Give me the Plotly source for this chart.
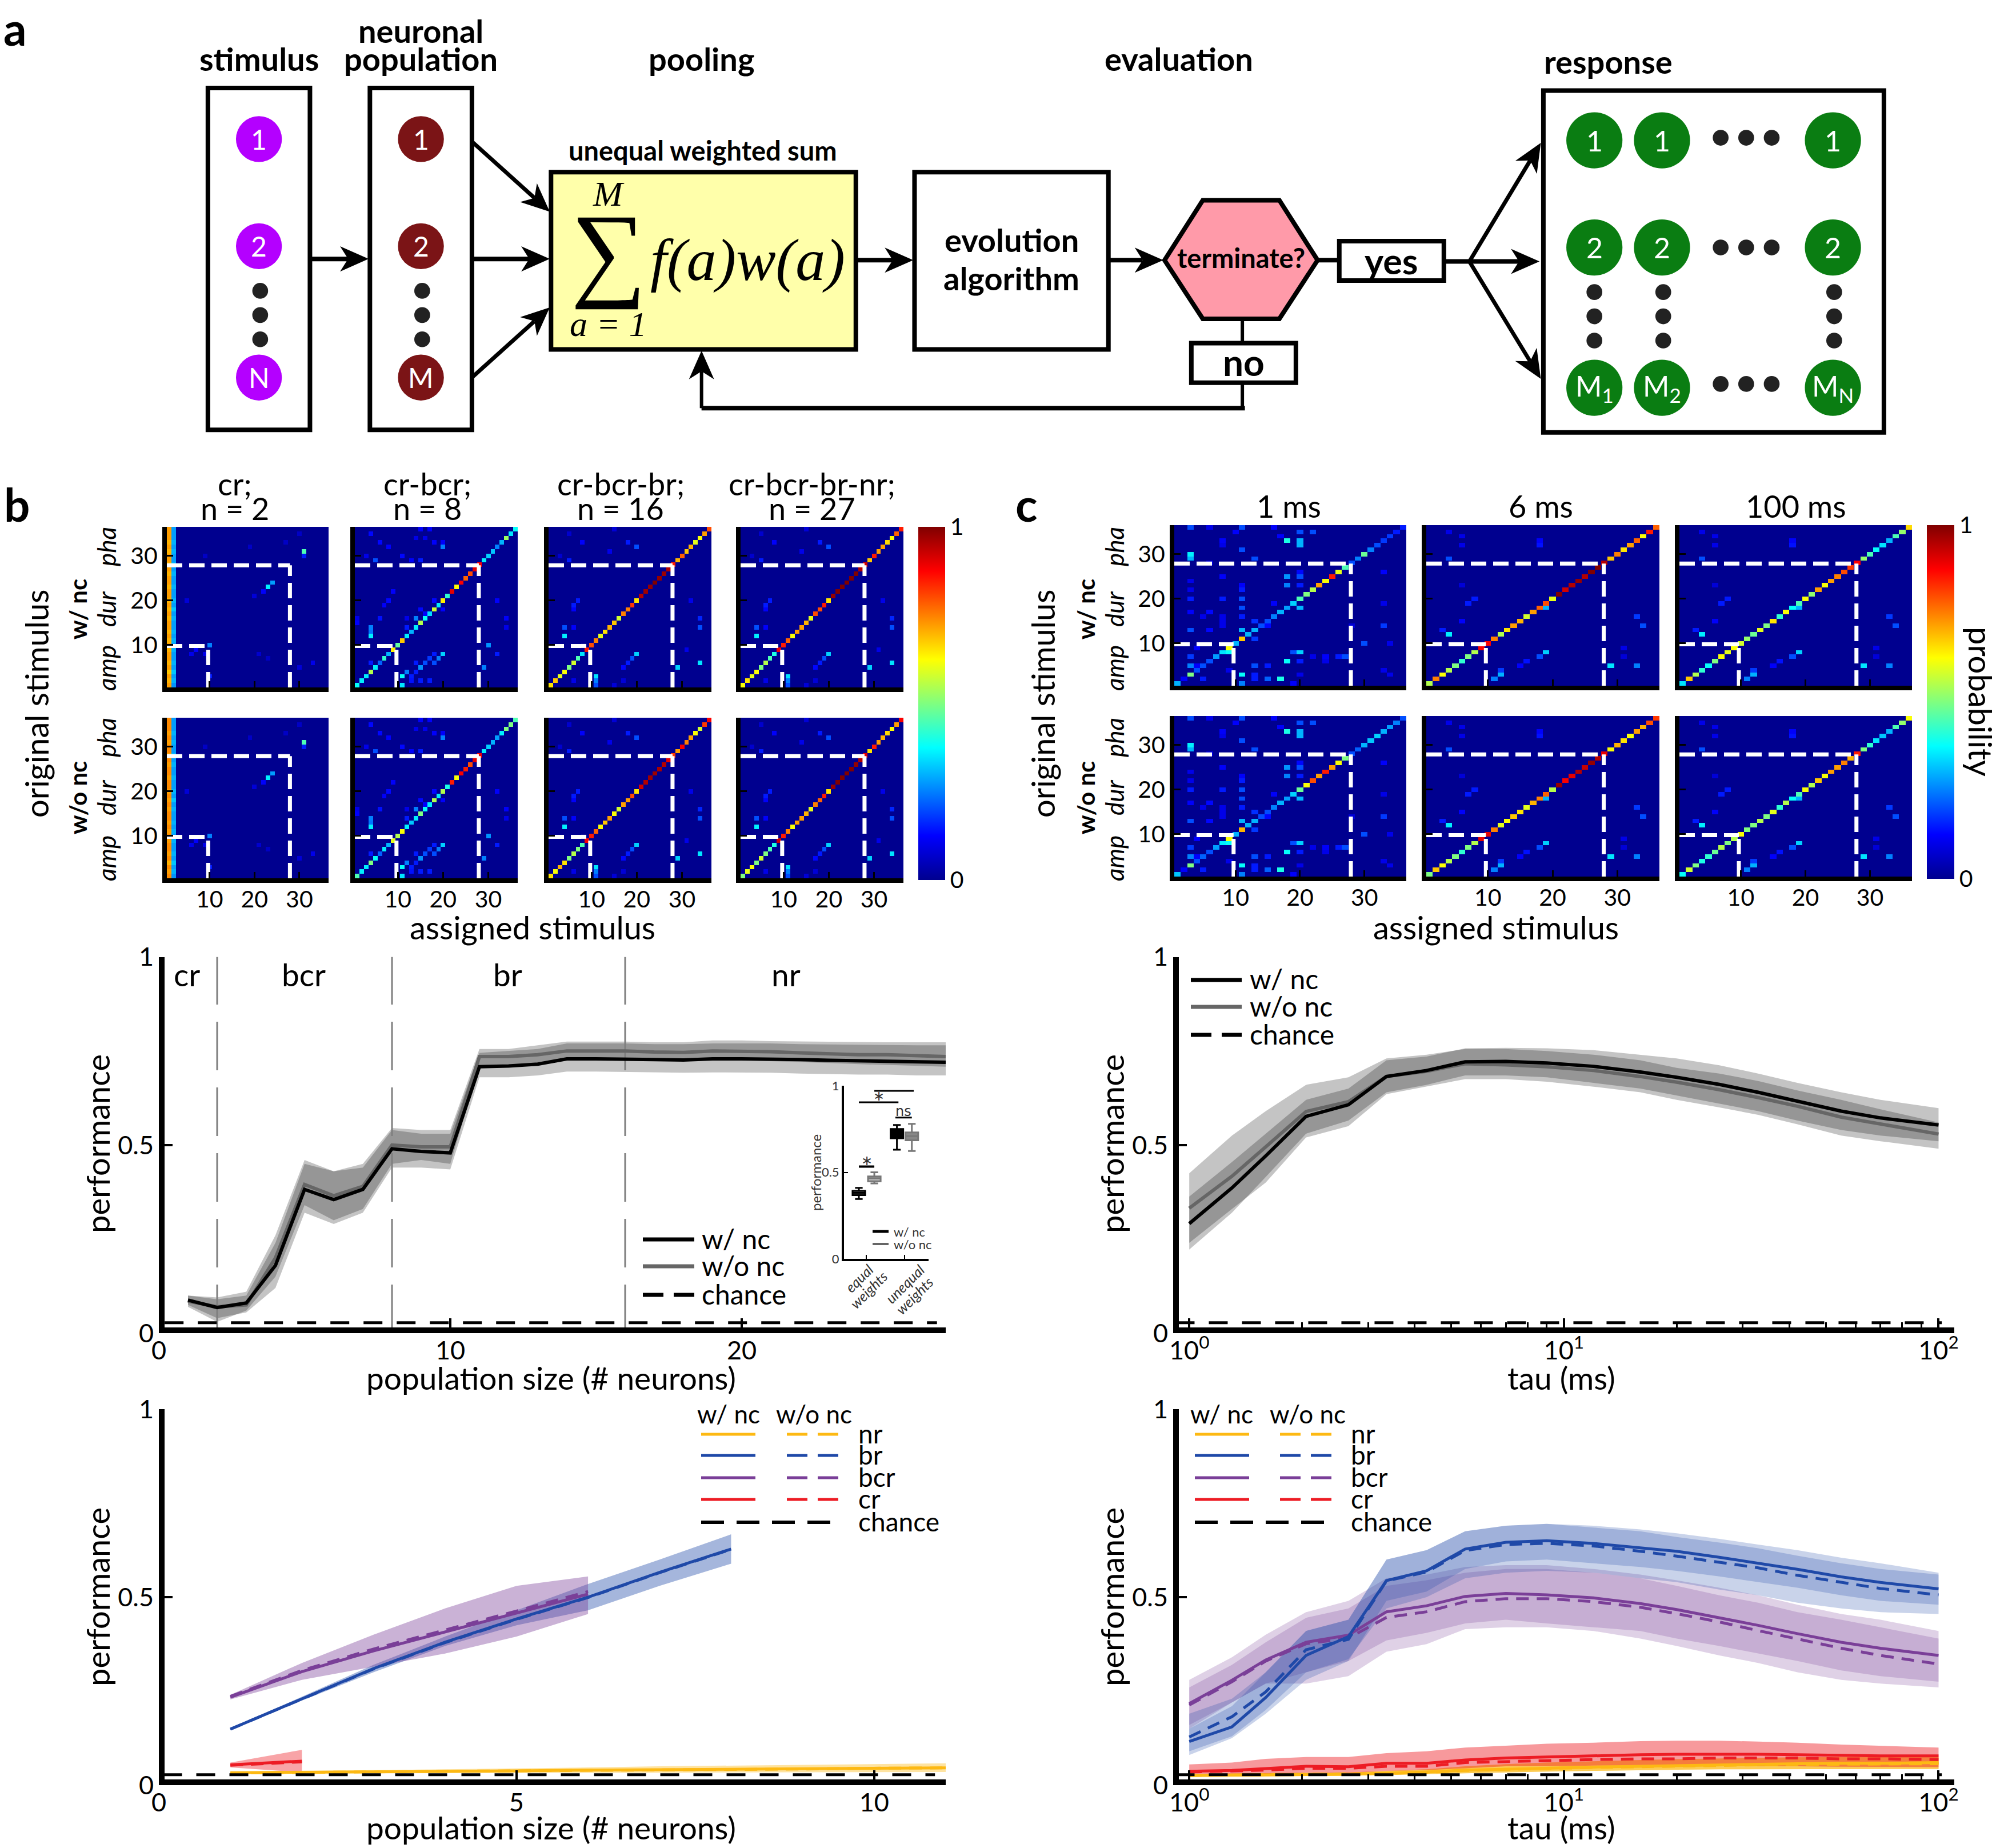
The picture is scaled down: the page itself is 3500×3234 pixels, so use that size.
import math
import plotly.graph_objects as go

W, H = 3500, 3234
D = W / 1568
FONT = "Lato"
SERIF = "Liberation Serif"

# ---------- confusion matrices ----------
cr_col1 = [.72,.70,.72,.68,.72,.70,.72,.72,.70,.72,.70,.72,.70,.72,.72,.70,.72,.70,.72,.70,.72,.72,.70,.72,.72,.70,.72,.70,.72,.72,.70,.72,.70,.72,.72,.72]
cr_col2 = [.27,.30,.28,.32,.28,.30,.28,.28,.30,.28,.30,.28,.30,.28,.28,.30,.28,.32,.28,.30,.28,.28,.30,.28,.28,.30,.28,.30,.28,.28,.30,.28,.30,.28,.28,.28]
off_b1 = [(31,31,.45),(30,31,.15),(23,23,.36),(24,24,.28),(22,22,.12),(21,20,.08),(10,10,.25),(9,7,.12),(8,6,.1),(8,9,.1),(8,21,.07),(7,23,.06),(6,33,.1),(5,30,.08),(3,10,.15),(20,5,.08),(32,19,.06),(33,27,.06),(35,30,.06),(30,9,.06)]
off_b2 = [(8,20,.33),(7,19,.25),(8,18,.15),(7,17,.18),(6,18,.2),(6,16,.2),(5,15,.27),(6,14,.15),(4,14,.15),(4,12,.25),(3,11,.38),(1,11,.35),(2,15,.15),(2,17,.15),(3,13,.15),(2,13,.14),(12,4,.36),(14,4,.25),(13,4,.24),(15,1,.12),(16,6,.14),(19,7,.12),(20,8,.13),(10,30,.27),(5,29,.25),(8,32,.15),(20,32,.12),(16,34,.12),(14,34,.1),(6,6,.22),(6,4,.15),(32,20,.25),(33,20,.12),(33,18,.12),(34,16,.1),(34,14,.1),(32,8,.12),(33,6,.13),(35,4,.13),(30,11,.13),(29,13,.12),(29,5,.2),(29,15,.15),(36,15,.12),(36,17,.12),(30,3,.1),(22,9,.12),(16,14,.25),(17,16,.12),(18,15,.13),(16,12,.1),(14,12,.15),(20,18,.13),(18,20,.12),(16,1,.1)]
off_b3 = [(12,4,.36),(14,4,.2),(3,11,.35),(2,11,.25),(1,11,.2),(8,20,.33),(7,19,.2),(6,18,.15),(5,17,.13),(5,29,.33),(6,34,.35),(16,34,.16),(14,34,.2),(20,7,.15),(19,6,.15),(18,6,.12),(14,6,.12),(32,20,.2),(33,18,.15),(33,8,.12),(31,14,.1),(29,5,.15),(9,31,.1),(20,32,.1),(2,17,.08),(2,6,.1),(1,15,.08),(30,3,.07),(35,5,.07),(36,15,.08)]
off_c2 = [(12,4,.36),(13,3,.15),(4,12,.18),(3,12,.3),(2,11,.25),(5,29,.35),(8,19,.33),(7,18,.2),(6,16,.14),(5,15,.12),(18,19,.3),(16,33,.18),(5,33,.25),(14,34,.2),(20,8,.15),(19,7,.15),(15,6,.12),(29,4,.2),(32,18,.14),(33,18,.12),(32,6,.1),(35,4,.1),(34,6,.1),(23,6,.08),(9,31,.1),(7,31,.08)]
off_c1 = [(30,3,.36),(29,3,.3),(3,3,.5),(5,3,.25),(36,3,.2),(33,18,.4),(33,20,.3),(32,20,.3),(6,18,.38),(8,20,.33),(2,17,.4),(8,9,.38),(3,11,.38),(1,11,.25),(13,11,.3),(36,11,.2),(31,11,.2),(29,13,.2),(35,20,.2),(35,22,.2),(25,18,.27),(25,20,.2),(23,18,.25),(23,20,.15),(18,20,.3),(25,8,.12),(20,8,.15),(20,3,.15),(17,3,.12),(17,6,.13),(13,3,.2),(7,3,.18),(6,6,.2),(5,13,.2),(5,15,.15),(7,27,.2),(7,26,.15),(7,24,.12),(10,30,.2),(26,33,.12),(14,33,.18),(10,34,.1),(4,33,.1),(32,8,.1),(14,8,.1),(20,11,.2),(22,11,.15),(18,11,.2),(16,11,.15),(11,13,.18),(3,13,.15),(2,5,.15),(2,13,.15),(2,15,.22),(33,8,.12),(34,17,.12),(36,6,.1),(36,16,.12),(35,10,.12),(22,3,.1),(15,13,.17),(16,5,.1),(14,15,.13),(15,8,.1),(19,16,.12),(26,20,.13),(8,19,.2),(7,22,.1),(6,20,.15),(6,24,.1),(3,20,.1),(13,6,.13),(9,4,.12),(5,4,.12),(4,9,.1),(1,19,.12),(16,8,.1),(14,28,.08),(19,33,.1),(3,34,.1),(28,6,.08),(23,11,.12),(24,3,.1)]
diag_b2w = [.38,.36,.36,.55,.36,.28,.42,.30,.64,.47,.68,.36,.30,.36,.55,.38,.34,.58,.36,.64,.42,.90,.63,.88,.78,.80,.90,.88,.36,.33,.32,.25,.30,.53,.35,.38]
diag_b2o = [.45,.36,.36,.50,.38,.30,.36,.30,.60,.55,.62,.36,.32,.36,.50,.38,.36,.55,.36,.55,.40,.85,.62,.88,.85,.80,.90,.88,.36,.33,.30,.28,.36,.50,.50,.45]
diag_b3w = [.65,.68,.60,.62,.50,.58,.45,.35,.85,.80,.75,.60,.65,.70,.68,.58,.75,.75,.82,.65,.95,.97,.98,1,.98,.97,.95,.85,.70,.78,.68,.70,.60,.62,.72,.80]
diag_b3o = [.65,.62,.70,.65,.50,.55,.50,.45,.88,.85,.78,.62,.68,.72,.62,.58,.72,.72,.80,.65,.92,.95,.97,.97,.96,.95,.90,.82,.72,.88,.75,.72,.62,.58,.82,.88]
diag_b4w = [.62,.65,.60,.62,.50,.55,.45,.40,.88,.85,.78,.62,.72,.72,.70,.60,.80,.80,.85,.65,.98,1,1,1,1,1,.95,.92,.68,.85,.72,.72,.66,.62,.78,.85]
diag_b4o = [.50,.60,.62,.50,.58,.50,.45,.40,.92,.85,.75,.62,.72,.72,.70,.60,.75,.78,.85,.65,.98,1,1,1,1,.98,.95,.90,.65,.85,.72,.70,.66,.62,.72,.88]
diag_c1w = [.30,.12,.12,.20,.20,.22,.28,.35,.62,.30,.68,.30,.30,.20,.20,.25,.30,.28,.33,.45,.50,.55,.72,.62,.85,.60,.45,.20,.25,.48,.25,.20,.18,.18,.15,.15]
diag_c1o = [.32,.12,.12,.20,.22,.22,.28,.36,.62,.30,.70,.30,.30,.20,.20,.25,.30,.28,.33,.48,.62,.80,.72,.85,.72,.62,.50,.20,.22,.30,.32,.33,.30,.28,.25,.20]
diag_c2w = [.55,.75,.62,.55,.50,.42,.50,.55,.88,.88,.75,.55,.65,.72,.70,.58,.72,.78,.80,.60,1,.92,.95,.98,.95,1,1,.95,.68,.75,.65,.72,.78,.62,.85,.78]
diag_c2o = [.50,.68,.62,.55,.50,.42,.50,.55,.90,.90,.75,.60,.62,.68,.65,.60,.70,.75,.78,.55,.98,.88,.90,.95,.93,.98,.95,.90,.62,.70,.65,.62,.72,.70,.80,.82]
diag_c3w = [.35,.68,.55,.42,.38,.50,.62,.60,.62,.58,.52,.48,.60,.50,.65,.42,.62,.38,.45,.62,.52,.72,.62,.72,.75,.80,.82,.88,.52,.45,.38,.35,.30,.45,.52,.66]
diag_c3o = [.38,.58,.50,.40,.42,.48,.55,.50,.55,.62,.50,.50,.55,.50,.60,.42,.55,.38,.45,.62,.55,.68,.62,.72,.72,.75,.70,.85,.50,.42,.35,.32,.30,.45,.52,.62]
NUMS = list(range(1, 37))

# ---------- line charts ----------
size_x = list(range(1, 28))
size_w = [.088,.068,.08,.18,.382,.355,.382,.49,.483,.479,.708,.71,.715,.729,.729,.729,.727,.726,.729,.729,.729,.727,.725,.724,.724,.722,.72]
size_o = [.085,.07,.075,.20,.395,.365,.39,.50,.495,.495,.735,.735,.74,.75,.75,.75,.747,.746,.75,.75,.748,.745,.742,.74,.74,.738,.735]
size_w_up = [.10,.09,.10,.24,.45,.43,.44,.54,.53,.53,.745,.75,.755,.77,.77,.77,.768,.768,.77,.77,.77,.768,.767,.766,.766,.765,.765]
size_w_lo = [.075,.04,.055,.12,.32,.29,.32,.44,.44,.435,.68,.68,.685,.695,.695,.695,.693,.692,.693,.693,.692,.69,.688,.687,.687,.685,.685]
size_o_up = [.10,.095,.11,.26,.46,.43,.45,.545,.54,.54,.755,.755,.765,.775,.775,.775,.773,.773,.778,.778,.776,.775,.775,.773,.773,.773,.773]
size_o_lo = [.07,.03,.06,.15,.34,.30,.33,.45,.46,.45,.71,.71,.715,.73,.73,.73,.728,.726,.725,.725,.722,.72,.718,.715,.712,.71,.708]
chance = [.0278,.0278]

single_x = {"br":[1,2,3,4,5,6,7,8],"bcr":[1,2,3,4,5,6],"cr":[1,2],"nr":[1,2,3,4,5,6,7,8,9,10,11]}
single_w = {"br":[.149,.229,.31,.38,.442,.50,.566,.628],"bcr":[.234,.302,.357,.407,.457,.508],"cr":[.054,.064],"nr":[.033,.034,.036,.037,.038,.040,.041,.042,.044,.045,.046]}
single_o = {"br":[.149,.228,.309,.379,.441,.499,.565,.627],"bcr":[.236,.305,.362,.412,.463,.515],"cr":[.053,.062],"nr":[.032,.034,.035,.037,.038,.039,.041,.042,.043,.045,.046]}
single_up = {"br":[.152,.235,.32,.395,.465,.535,.60,.667],"bcr":[.24,.325,.40,.47,.53,.555],"cr":[.06,.094],"nr":[.035,.038,.04,.042,.044,.047,.05,.052,.054,.056,.058]}
single_lo = {"br":[.146,.225,.30,.37,.425,.465,.53,.589],"bcr":[.228,.28,.315,.35,.395,.455],"cr":[.047,.034],"nr":[.03,.031,.031,.032,.032,.033,.033,.034,.034,.035,.035]}

tau = [1,1.3,1.6,2.05,2.66,3.36,4.3,5.45,7,9,12,16,20,26,33,42,55,70,100]
tau_w = [.291,.386,.471,.576,.607,.682,.698,.721,.722,.718,.709,.694,.68,.661,.64,.616,.59,.572,.553]
tau_o = [.332,.417,.495,.589,.615,.682,.696,.716,.713,.708,.698,.682,.667,.647,.626,.603,.574,.555,.529]
tau_w_up = [.363,.455,.53,.62,.65,.725,.735,.757,.758,.757,.752,.74,.73,.712,.69,.665,.64,.62,.598]
tau_w_lo = [.222,.32,.415,.53,.565,.64,.66,.685,.685,.68,.665,.65,.632,.61,.59,.565,.54,.525,.51]
tau_o_up = [.425,.525,.59,.66,.68,.73,.74,.755,.755,.75,.74,.725,.705,.69,.67,.645,.62,.595,.56]
tau_o_lo = [.24,.33,.40,.52,.55,.635,.655,.675,.675,.668,.655,.64,.62,.60,.58,.555,.525,.51,.49]

br_w = [.116,.155,.233,.345,.395,.544,.57,.628,.646,.65,.643,.632,.622,.606,.591,.574,.554,.539,.522]
br_o = [.128,.182,.248,.36,.388,.543,.567,.624,.64,.643,.636,.622,.609,.593,.578,.558,.539,.523,.506]
br_w_up = [.15,.21,.30,.41,.44,.60,.625,.675,.69,.695,.69,.68,.67,.655,.64,.625,.605,.59,.565]
br_w_lo = [.08,.125,.19,.28,.33,.49,.515,.575,.595,.60,.59,.58,.57,.555,.54,.525,.505,.49,.48]
br_o_up = [.19,.23,.30,.41,.44,.60,.625,.675,.69,.695,.685,.675,.66,.645,.63,.61,.59,.575,.56]
br_o_lo = [.09,.13,.20,.30,.335,.47,.50,.55,.565,.57,.565,.55,.54,.52,.505,.485,.47,.46,.455]
bcr_w = [.217,.279,.333,.38,.399,.461,.477,.502,.51,.506,.498,.483,.467,.446,.425,.403,.38,.364,.345]
bcr_o = [.213,.275,.33,.376,.391,.446,.461,.488,.496,.496,.488,.473,.456,.434,.411,.388,.364,.345,.322]
bcr_w_up = [.28,.34,.40,.46,.49,.55,.56,.58,.585,.585,.575,.56,.545,.525,.505,.48,.455,.44,.41]
bcr_w_lo = [.15,.22,.27,.30,.33,.385,.405,.43,.44,.43,.42,.41,.39,.37,.35,.33,.305,.29,.275]
bcr_o_up = [.26,.32,.38,.445,.47,.53,.545,.565,.575,.575,.565,.55,.53,.505,.485,.46,.44,.42,.39]
bcr_o_lo = [.16,.22,.27,.27,.29,.355,.375,.415,.42,.42,.41,.39,.37,.345,.325,.30,.28,.27,.26]
cr_w = [.037,.039,.044,.05,.049,.058,.058,.067,.072,.075,.078,.081,.082,.083,.082,.081,.079,.078,.078]
cr_o = [.035,.037,.04,.045,.045,.05,.05,.06,.063,.065,.068,.07,.07,.072,.072,.072,.07,.07,.068]
cr_up = [.055,.06,.07,.075,.075,.085,.09,.10,.105,.11,.113,.117,.118,.118,.116,.113,.108,.105,.10]
cr_lo = [.024,.026,.028,.033,.032,.038,.04,.045,.05,.05,.052,.053,.052,.052,.05,.05,.049,.048,.048]
nr_w = [.026,.027,.027,.028,.029,.032,.035,.04,.043,.046,.048,.05,.052,.054,.056,.057,.058,.058,.06]
nr_o = [.026,.027,.027,.028,.029,.031,.034,.039,.042,.045,.047,.049,.051,.053,.054,.055,.056,.056,.057]
nr_up = [.03,.031,.032,.033,.034,.038,.042,.05,.056,.06,.064,.067,.069,.071,.073,.074,.075,.075,.075]
nr_lo = [.022,.023,.023,.024,.025,.027,.029,.032,.034,.036,.038,.04,.041,.042,.043,.043,.043,.043,.043]

box_pos = [.806,1.21,1.8,2.19]
box_low = [.346,.436,.63,.623]
box_q1 = [.368,.448,.696,.685]
box_med = [.381,.465,.72,.709]
box_q3 = [.393,.476,.75,.73]
box_up = [.41,.50,.773,.78]

COL = {"nr":"#FDB913","br":"#1F49A8","bcr":"#7A3F98","cr":"#ED1C24"}
RGB = {"nr":"253,185,19","br":"31,73,168","bcr":"122,63,152","cr":"237,28,36"}
JET = [[0,"#00008F"],[.125,"#0000FF"],[.375,"#00FFFF"],[.625,"#FFFF00"],[.875,"#FF0000"],[1,"#800000"]]

fig = go.Figure()
shapes, annots = [], []
axis_count = [0]
layout_axes = {}

def px(x): return x / W
def py(y): return 1 - y / H

def txt(x, y, t, size=46, bold=False, angle=0, color="black", family=FONT, anchor="center", italic=False):
    if bold: t = f"<b>{t}</b>"
    if italic: t = f"<i>{t}</i>"
    annots.append(dict(x=px(x), y=py(y), xref="paper", yref="paper", text=t, showarrow=False,
                       font=dict(size=size, family=family, color=color), textangle=angle,
                       xanchor=anchor, yanchor="middle"))

def dtxt(x, y, t, **k): txt(x*D, y*D, t, **k)

def seg(x0, y0, x1, y1, color="black", width=6, dash=None):
    shapes.append(dict(type="line", xref="paper", yref="paper", x0=px(x0), y0=py(y0), x1=px(x1), y1=py(y1),
                       line=dict(color=color, width=width, dash=dash)))

def dseg(x0, y0, x1, y1, **k): seg(x0*D, y0*D, x1*D, y1*D, **k)

def drect(x0, y0, x1, y1, fill="white", width=8):
    shapes.append(dict(type="rect", xref="paper", yref="paper", x0=px(x0*D), y0=py(y0*D), x1=px(x1*D), y1=py(y1*D),
                       fillcolor=fill, line=dict(color="black", width=width)))

def dcircle(x, y, r, fill):
    r *= D; x *= D; y *= D
    shapes.append(dict(type="circle", xref="paper", yref="paper", x0=px(x-r), x1=px(x+r), y0=py(y-r), y1=py(y+r),
                       fillcolor=fill, line=dict(width=0)))

def polygon(pts, fill, lw=0):
    p = " L ".join(f"{px(a):.5f} {py(b):.5f}" for a, b in pts)
    shapes.append(dict(type="path", xref="paper", yref="paper", path=f"M {p} Z", fillcolor=fill,
                       line=dict(color="black", width=lw)))

def darrow(x0, y0, x1, y1, length=50, half=22, notch=14, lw=8):
    X0, Y0, X1, Y1 = x0*D, y0*D, x1*D, y1*D
    n = math.hypot(X1-X0, Y1-Y0)
    ux, uy = (X1-X0)/n, (Y1-Y0)/n
    bx, by = X1-ux*length, Y1-uy*length
    nx, ny = X1-ux*(length-notch), Y1-uy*(length-notch)
    seg(X0, Y0, nx, ny, width=lw)
    polygon([(X1,Y1),(bx-uy*half,by+ux*half),(nx,ny),(bx+uy*half,by-ux*half)], "black")

def axes(x0, x1, ytop, ybot, xopt, yopt):
    axis_count[0] += 1
    n = axis_count[0]
    s = "" if n == 1 else str(n)
    layout_axes["xaxis"+s] = dict(domain=[px(x0), px(x1)], anchor="y"+s, **xopt)
    layout_axes["yaxis"+s] = dict(domain=[py(ybot), py(ytop)], anchor="x"+s, **yopt)
    return "x"+s, "y"+s

def build(diag, off, c1=None, c2=None):
    z = [[0.0]*36 for _ in range(36)]
    if diag:
        for i, v in enumerate(diag): z[i][i] = v
    for r, c, v in off: z[r-1][c-1] = v
    if c1:
        for i in range(36):
            z[i][0] = c1[i]; z[i][1] = c2[i]
    return z

def heat_axis(show, standoff=0):
    return dict(range=[.5, 36.5], tickvals=[10,20,30], ticks="inside", ticklen=11, tickwidth=3, tickcolor="black",
                showticklabels=show, showline=True, linecolor="black", linewidth=8, showgrid=False, zeroline=False,
                ticklabelstandoff=standoff, tickfont=dict(size=41, family=FONT, color="black"))

def matrix(x0, x1, ytop, ybot, z, xlab, ylab, bar=None):
    xa, ya = axes(x0, x1, ytop, ybot, heat_axis(xlab, -6), heat_axis(ylab))
    tr = dict(z=z, x=NUMS, y=NUMS, colorscale=JET, zmin=0, zmax=1, showscale=False, hoverinfo="skip", xaxis=xa, yaxis=ya)
    if bar:
        tr["showscale"] = True
        tr["colorbar"] = dict(x=px(bar[0]), xanchor="left", thickness=bar[1]-bar[0], thicknessmode="pixels",
                              len=bar[3]-bar[2], lenmode="pixels", y=py((bar[2]+bar[3])/2), yanchor="middle",
                              tickvals=[0,1], ticktext=["0","1"], ticks="", outlinewidth=0,
                              tickfont=dict(size=41, family=FONT, color="black"), xpad=0, ypad=0)
    fig.add_trace(go.Heatmap(**tr))
    dsh = "27px,12px"
    for xs, ys in (([.5,27.9],[27.9,27.9]), ([27.9,27.9],[.5,27.9]), ([.5,9.7],[9.8,9.8]), ([9.7,9.7],[.5,9.8])):
        fig.add_trace(go.Scatter(x=xs, y=ys, mode="lines", line=dict(color="white", width=7, dash=dsh),
                                 hoverinfo="skip", xaxis=xa, yaxis=ya))

# ---------- panel a ----------
dtxt(12, 22, "a", size=80, bold=True)
for x, y, t in ((203,46,"stimulus"),(330,24,"neuronal"),(330,46,"population"),(550,46,"pooling"),(924,46,"evaluation"),(1261,48,"response")):
    dtxt(x, y, t, size=56, bold=True)
dtxt(551, 118, "unequal weighted sum", size=47, bold=True)
drect(163,69,243,337); drect(290,69,370,337); drect(432,135,671,274,fill="#FFFFAA"); drect(717,135,869,274)
polygon([(913*D,204*D),(943*D,157*D),(1003*D,157*D),(1033*D,204*D),(1003*D,250*D),(943*D,250*D)], "#FF9AA9", lw=8)
darrow(243,203,289,203); darrow(370,111,431,166,lw=7); darrow(370,203,431,203); darrow(370,296,431,241,lw=7)
darrow(671,204,716,204); darrow(869,204,912,204)
dseg(1033,204,1050,204,width=8); dseg(974,250,974,269,width=6); dseg(974,300,974,320,width=6); dseg(976,320,550,320,width=8)
darrow(550,320,550,275,lw=6)
drect(1050,189,1132,220); drect(934,269,1016,300); drect(1210,71,1477,339)
darrow(1132,205,1207,205); darrow(1152,205,1208,112,lw=7); darrow(1152,205,1208,297,lw=7)
for y, t in ((109,"1"),(193,"2"),(296,"N")):
    dcircle(203,y,18,"#B400FF"); dtxt(203,y,t,size=48,color="white")
for y, t in ((109,"1"),(193,"2"),(296,"M")):
    dcircle(330,y,18,"#7B1416"); dtxt(330,y,t,size=48,color="white")
for y in (228,247,266):
    dcircle(204,y,6.2,"#222222"); dcircle(331,y,6.2,"#222222")
    for x in (1250,1304,1438): dcircle(x,y+1,6.2,"#222222")
for y, labs in ((110,("1","1","1")),(194,("2","2","2")),(304,("M<sub>1</sub>","M<sub>2</sub>","M<sub>N</sub>"))):
    for x, t in zip((1250,1303,1437), labs):
        dcircle(x,y,22,"#0A7D12"); dtxt(x,y,t,size=50,color="white")
for y in (108,194,301):
    for x in (1349,1369,1389): dcircle(x,y,6.2,"#222222")
dtxt(477,197,"∑",size=185,family=SERIF)
dtxt(477,152,"M",size=62,family=SERIF,italic=True)
dtxt(477,254,"a = 1",size=62,family=SERIF,italic=True)
dtxt(586,204,"f(a)w(a)",size=104,family=SERIF,italic=True)
dtxt(793,188,"evolution",size=56,bold=True); dtxt(793,218,"algorithm",size=56,bold=True)
dtxt(973,202,"terminate?",size=47,bold=True)
dtxt(1091,204,"yes",size=63,bold=True); dtxt(975,284,"no",size=64,bold=True)

# ---------- panel b matrices ----------
bx = [(292,575),(621,906),(960,1245),(1296,1581)]
brow = [(922,1203),(1256,1537)]
sets_b = [
    (build(None,off_b1,cr_col1,cr_col2), build(None,off_b1,[v+.02 for v in cr_col1],cr_col2)),
    (build(diag_b2w,off_b2), build(diag_b2o,off_b2)),
    (build(diag_b3w,off_b3), build(diag_b3o,off_b3)),
    (build(diag_b4w,off_b3), build(diag_b4o,off_b3)),
]
for c, (xr, pair) in enumerate(zip(bx, sets_b)):
    for r in (0, 1):
        matrix(xr[0], xr[1], brow[r][0], brow[r][1], pair[r], r == 1, c == 0,
               bar=(1607,1654,922,1540) if (c == 0 and r == 0) else None)
for x, a, b in ((411,"cr;","n = 2"),(748,"cr-bcr;","n = 8"),(1086,"cr-bcr-br;","n = 16"),(1421,"cr-bcr-br-nr;","n = 27")):
    txt(x,846,a,size=54); txt(x,889,b,size=54)

# ---------- panel c matrices ----------
cx = [(2055,2461),(2496,2904),(2939,3346)]
crow = [(919,1200),(1253,1534)]
sets_c = [(build(diag_c1w,off_c1),build(diag_c1o,off_c1)),(build(diag_c2w,off_c2),build(diag_c2o,off_c2)),(build(diag_c3w,off_c2),build(diag_c3o,off_c2))]
for c, (xr, pair) in enumerate(zip(cx, sets_c)):
    for r in (0, 1):
        matrix(xr[0], xr[1], crow[r][0], crow[r][1], pair[r], r == 1, c == 0,
               bar=(3372,3420,919,1538) if (c == 0 and r == 0) else None)
for x, t in ((2255,"1 ms"),(2696,"6 ms"),(3143,"100 ms")):
    txt(x,885,t,size=54)

for xo, xw, xa, xs, xc in ((63,136,186,1232,932),(1824,1900,1950,1232,2618)):
    txt(xo,xs,"original stimulus",size=56,angle=-90)
    txt(xw,1066,"w/ nc",size=42,bold=True,angle=-90); txt(xw,1396,"w/o nc",size=42,bold=True,angle=-90)
    for y, t in ((1169,"amp"),(1066,"dur"),(957,"pha"),(1502,"amp"),(1396,"dur"),(1291,"pha")):
        txt(xa,y,t,size=44,angle=-90,italic=True)
    txt(xc,1622,"assigned stimulus",size=56)
txt(3466,1228,"probability",size=56,angle=90)
dtxt(13,395,"b",size=80,bold=True); dtxt(805,395,"c",size=80,bold=True)

# ---------- line chart helpers ----------
def line_axes(x0, x1, ytop, ybot, xr, xtickvals, xticktext, log=False):
    tf = dict(size=45, family=FONT, color="black")
    xo = dict(range=xr, tickvals=xtickvals, ticktext=xticktext, ticks="inside", ticklen=16, tickwidth=4, tickcolor="black",
              showline=True, linecolor="black", linewidth=10, showgrid=False, zeroline=False, tickfont=tf, ticklabelstandoff=-8)
    if log:
        xo["type"] = "log"
        xo["minor"] = dict(ticks="inside", ticklen=9, tickwidth=3, tickcolor="black",
                           tickvals=[a*b for b in (1,10) for a in range(2,10)], showgrid=False)
    yo = dict(range=[0,1], tickvals=[0,.5,1], ticktext=["0","0.5","1"], ticks="inside", ticklen=14, tickwidth=4, tickcolor="black",
              showline=True, linecolor="black", linewidth=10, showgrid=False, zeroline=False, tickfont=tf)
    xa, ya = axes(x0, x1, ytop, ybot, xo, yo)
    # centre each 10 px axis line on the data origin
    layout_axes[xa.replace("x","xaxis")].update(anchor="free", position=py(ybot-5))
    layout_axes[ya.replace("y","yaxis")].update(anchor="free", position=px(x0+5))
    return xa, ya

def band(xa, ya, xs, up, lo, color):
    fig.add_trace(go.Scatter(x=list(xs)+list(xs)[::-1], y=list(up)+list(lo)[::-1], mode="lines", fill="toself",
                             fillcolor=color, line=dict(width=0), hoverinfo="skip", xaxis=xa, yaxis=ya))

def curve(xa, ya, xs, ys, color, width=5, dash=None):
    fig.add_trace(go.Scatter(x=xs, y=ys, mode="lines", line=dict(color=color, width=width, dash=dash),
                             hoverinfo="skip", xaxis=xa, yaxis=ya))

GB = "rgba(0,0,0,0.23)"
CD = "33px,25px"

# middle left
xa, ya = line_axes(278,1655,1674.5,2333,[0,27],[0,10,20],["0","10","20"])
band(xa,ya,size_x,size_o_up,size_o_lo,GB); band(xa,ya,size_x,size_w_up,size_w_lo,GB)
for v in ([2,2],[8,8],[16,16]):
    curve(xa,ya,v,[0,1],"#7F7F7F",width=3,dash="85px,30px")
curve(xa,ya,size_x,size_o,"#666666",width=6); curve(xa,ya,size_x,size_w,"black",width=6)
curve(xa,ya,[.2,26.7],chance,"black",width=5,dash=CD)

# middle right
xa, ya = line_axes(2053,3420,1674.5,2333,[-0.043,2.042],[1,10,100],["10<sup>0</sup>","10<sup>1</sup>","10<sup>2</sup>"],log=True)
band(xa,ya,tau,tau_o_up,tau_o_lo,GB); band(xa,ya,tau,tau_w_up,tau_w_lo,GB)
curve(xa,ya,tau,tau_o,"#666666",width=6); curve(xa,ya,tau,tau_w,"black",width=6)
curve(xa,ya,[.92,102],chance,"black",width=5,dash=CD)

# bottom left
xa, ya = line_axes(278,1655,2466,3124,[0,11],[0,5,10],["0","5","10"])
for k in ("cr","nr","br","bcr"):
    band(xa,ya,single_x[k],single_up[k],single_lo[k],f"rgba({RGB[k]},0.4)")
for k in ("nr","br","bcr","cr"):
    curve(xa,ya,single_x[k],single_o[k],COL[k],dash="22px,14px"); curve(xa,ya,single_x[k],single_w[k],COL[k])
curve(xa,ya,[.06,10.85],chance,"black",width=5,dash=CD)

# bottom right
xa, ya = line_axes(2053,3420,2466,3124,[-0.043,2.042],[1,10,100],["10<sup>0</sup>","10<sup>1</sup>","10<sup>2</sup>"],log=True)
for k, u1, l1, u2, l2 in (("bcr",bcr_w_up,bcr_w_lo,bcr_o_up,bcr_o_lo),("br",br_w_up,br_w_lo,br_o_up,br_o_lo)):
    c = f"rgba({RGB[k]},0.24)"
    band(xa,ya,tau,u1,l1,c); band(xa,ya,tau,u2,l2,c)
band(xa,ya,tau,nr_up,nr_lo,"rgba(253,185,19,0.55)"); band(xa,ya,tau,nr_up,nr_lo,"rgba(253,185,19,0.4)")
band(xa,ya,tau,cr_up,cr_lo,"rgba(237,28,36,0.45)")
for k, w, o in (("nr",nr_w,nr_o),("cr",cr_w,cr_o),("bcr",bcr_w,bcr_o),("br",br_w,br_o)):
    curve(xa,ya,tau,o,COL[k],dash="22px,14px"); curve(xa,ya,tau,w,COL[k])
curve(xa,ya,[.92,102],chance,"black",width=5,dash=CD)

for x, yc in ((170,2002),(170,2795),(1945,2002),(1945,2795)):
    txt(x,yc,"performance",size=56,angle=-90)
txt(965,2411,"population size (# neurons)",size=55); txt(965,3198,"population size (# neurons)",size=55)
txt(2732,2411,"tau (ms)",size=55); txt(2732,3198,"tau (ms)",size=55)
for x, t in ((327,"cr"),(531,"bcr"),(888,"br"),(1375,"nr")):
    txt(x,1705,t,size=55)

# legends
for y, col, dash, t in ((2169,"black",None,"w/ nc"),(2216,"#666666",None,"w/o nc"),(2266,"black","36px,18px","chance")):
    seg(1125,y,1215,y,color=col,width=7,dash=dash); txt(1226,y-2,t,size=48,anchor="left")
for y, col, dash, t in ((1715,"black",None,"w/ nc"),(1762,"#666666",None,"w/o nc"),(1811,"black","36px,18px","chance")):
    seg(2084,y,2173,y,color=col,width=7,dash=dash); txt(2185,y-2,t,size=48,anchor="left")
for (l0,l1,d0,d1,ch,tx,h1,h2) in ((1227,1322,1377,1467,1472,1500,1275,1424),(2091,2186,2240,2332,2336,2362,2138,2288)):
    txt(h1,2474,"w/ nc",size=44); txt(h2,2474,"w/o nc",size=44)
    for y, k in ((2510,"nr"),(2547,"br"),(2586,"bcr"),(2624,"cr")):
        seg(l0,y,l1,y,color=COL[k],width=5); seg(d0,y,d1,y,color=COL[k],width=5,dash="36px,18px")
        txt(tx,y-2,k,size=46,anchor="left")
    seg(l0,2664,ch,2664,color="black",width=6,dash="40px,22px"); txt(tx,2662,"chance",size=46,anchor="left")

# ---------- inset ----------
tfi = dict(size=22, family=FONT, color="#333333")
xa, ya = axes(1477,1625,1900,2203,
    dict(range=[.418,2.627], tickvals=[1,2], showticklabels=False, ticks="inside",
         ticklen=7, tickwidth=2, tickcolor="black", showline=True, linecolor="black", linewidth=4, showgrid=False, zeroline=False),
    dict(range=[0,1], tickvals=[0,.5,1], ticktext=["0","0.5","1"], ticks="inside", ticklen=7, tickwidth=2, tickcolor="black",
         showline=True, linecolor="black", linewidth=4, showgrid=False, zeroline=False, tickfont=tfi))
for i, (lc, fc) in enumerate((("black","#777777"),("#777777","#BBBBBB"),("black","black"),("#777777","#888888"))):
    fig.add_trace(go.Box(x=[box_pos[i]], q1=[box_q1[i]], median=[box_med[i]], q3=[box_q3[i]],
                         lowerfence=[box_low[i]], upperfence=[box_up[i]], width=.33, whiskerwidth=.6,
                         line=dict(color=lc, width=3), fillcolor=fc, hoverinfo="skip", xaxis=xa, yaxis=ya))
for p0, p1, yv, t, w in ((.806,1.21,.533,"∗",4),(.806,1.84,.904,"∗",3),(1.21,2.24,.97,"∗",3),(1.76,2.19,.816,"ns",3)):
    curve(xa,ya,[p0,p1],[yv,yv],"black",width=w)
    annots.append(dict(x=(p0+p1)/2, y=yv+.035, xref=xa, yref=ya, text=t, showarrow=False,
                       font=dict(size=24, family="DejaVu Sans", color="#333333"), xanchor="center", yanchor="middle"))
txt(1427,2052,"performance",size=24,angle=-90,color="#333333")
seg(1527,2155,1555,2155,color="black",width=5); txt(1562,2155,"w/ nc",size=22,anchor="left",color="#333333")
seg(1527,2177,1555,2177,color="#666666",width=4); txt(1562,2177,"w/o nc",size=22,anchor="left",color="#333333")
for x, y, t in ((1503,2237,"equal"),(1520,2257,"weights"),(1583,2247,"unequal"),(1600,2267,"weights")):
    txt(x,y,t,size=25,angle=-45,italic=True,color="#333333")

fig.update_layout(width=W, height=H, margin=dict(l=0,r=0,t=0,b=0,autoexpand=False), paper_bgcolor="white", plot_bgcolor="rgba(0,0,0,0)",
                  showlegend=False, boxmode="overlay", shapes=shapes, annotations=annots,
                  font=dict(family=FONT, color="black"), **layout_axes)
fig.write_html("out.html", post_script="document.body.style.margin='0';", config={"displayModeBar": False})
